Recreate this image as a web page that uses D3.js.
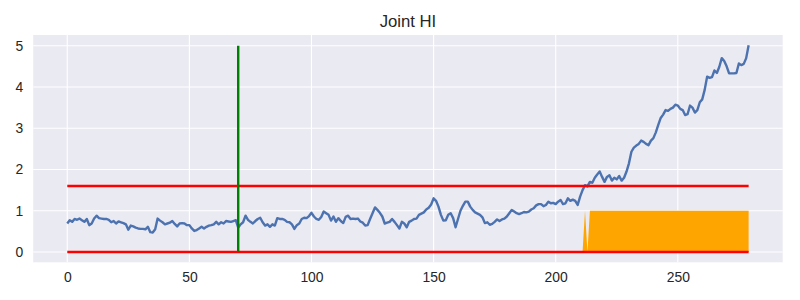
<!DOCTYPE html>
<html>
<head>
<meta charset="utf-8">
<script src="https://cdn.jsdelivr.net/npm/d3@7"></script>
<style>
    html, body { margin: 0; padding: 0; background: #ffffff; }
    svg { display: block; }
</style>
</head>
<body>
<svg id="chart" width="800" height="300"></svg>
<script>

var title_text = 'Joint HI';

// Health indicator, one value per sample (index = sample number)
var hi_values = [
    0.69, 0.77, 0.73, 0.80, 0.78, 0.81, 0.77, 0.73, 0.80, 0.65,
    0.69, 0.81, 0.88, 0.82, 0.81, 0.80, 0.80, 0.78, 0.72, 0.75,
    0.69, 0.74, 0.72, 0.70, 0.67, 0.54, 0.64, 0.62, 0.59, 0.57,
    0.56, 0.56, 0.55, 0.61, 0.48, 0.47, 0.55, 0.81, 0.76, 0.72,
    0.67, 0.69, 0.71, 0.75, 0.68, 0.62, 0.69, 0.70, 0.69, 0.65,
    0.65, 0.57, 0.51, 0.53, 0.57, 0.61, 0.57, 0.61, 0.64, 0.65,
    0.67, 0.73, 0.67, 0.72, 0.69, 0.75, 0.74, 0.73, 0.75, 0.77,
    0.59, 0.67, 0.72, 0.88, 0.78, 0.73, 0.69, 0.75, 0.80, 0.83,
    0.72, 0.64, 0.67, 0.61, 0.67, 0.64, 0.82, 0.80, 0.80, 0.78,
    0.73, 0.72, 0.67, 0.56, 0.65, 0.69, 0.80, 0.83, 0.82, 0.87,
    0.95, 0.86, 0.80, 0.78, 0.85, 0.98, 0.94, 0.90, 0.76, 0.86,
    0.73, 0.82, 0.75, 0.70, 0.85, 0.88, 0.80, 0.81, 0.80, 0.81,
    0.74, 0.71, 0.64, 0.65, 0.80, 0.94, 1.08, 1.02, 0.95, 0.86,
    0.69, 0.71, 0.73, 0.80, 0.73, 0.65, 0.57, 0.73, 0.69, 0.60,
    0.73, 0.76, 0.80, 0.81, 0.90, 0.93, 0.96, 1.03, 1.07, 1.15,
    1.30, 1.24, 1.10, 0.90, 0.76, 0.77, 0.90, 0.94, 0.82, 0.60,
    0.80, 1.00, 1.12, 1.22, 1.22, 1.10, 1.02, 0.96, 0.93, 0.90,
    0.84, 0.70, 0.72, 0.66, 0.68, 0.73, 0.79, 0.75, 0.79, 0.81,
    0.86, 0.94, 1.02, 0.98, 0.94, 0.92, 0.94, 0.97, 0.96, 0.98,
    1.03, 1.06, 1.13, 1.16, 1.16, 1.11, 1.14, 1.22, 1.18, 1.19,
    1.16, 1.22, 1.26, 1.16, 1.18, 1.30, 1.24, 1.27, 1.24, 1.14,
    1.34, 1.50, 1.62, 1.59, 1.70, 1.68, 1.80, 1.88, 1.95, 1.82,
    1.70, 1.82, 1.86, 1.73, 1.80, 1.76, 1.84, 1.73, 1.80, 1.95,
    2.15, 2.43, 2.53, 2.58, 2.62, 2.70, 2.67, 2.62, 2.59, 2.70,
    2.76, 2.90, 3.08, 3.25, 3.33, 3.44, 3.42, 3.47, 3.50, 3.57,
    3.55, 3.47, 3.44, 3.32, 3.34, 3.55, 3.50, 3.38, 3.44, 3.63,
    3.70, 3.93, 4.25, 4.22, 4.24, 4.40, 4.34, 4.49, 4.70, 4.63,
    4.50, 4.33, 4.33, 4.33, 4.34, 4.57, 4.53, 4.56, 4.70, 5.01
];

// Alarm threshold (upper red line) and base line (lower red line)
var threshold = 1.6;
var base_level = 0;

// Vertical green marker
var marker_index = 70;
var marker_range = [ 0, 5 ];

var x_ticks = [ 0, 50, 100, 150, 200, 250 ];
var y_ticks = [ 0, 1, 2, 3, 4, 5 ];

draw_chart();

function draw_chart () {

    var width = 800;
    var height = 300;
    var margin = { left: 33.2, right: 17.3, top: 35, bottom: 37.7 };

    var svg = d3.select( '#chart' );

    var n = hi_values.length;
    var xs = d3.range( n );

    // 0/1 flag of samples above the threshold, filled in orange
    var alarm = hi_values.map( function ( v ) { return v > threshold ? 1 : 0; } );

    // matplotlib style 5% margins
    var x_pad = ( n - 1 ) * 0.05;
    var y_max = Math.max( d3.max( hi_values ), marker_range[ 1 ] );
    var y_min = Math.min( d3.min( hi_values ), base_level );
    var y_pad = ( y_max - y_min ) * 0.05;

    var x = d3.scaleLinear()
        .domain( [ -x_pad, n - 1 + x_pad ] )
        .range( [ margin.left, width - margin.right ] );

    var y = d3.scaleLinear()
        .domain( [ y_min - y_pad, y_max + y_pad ] )
        .range( [ height - margin.bottom, margin.top ] );

    var font = '"Liberation Sans", Arial, sans-serif';

    // Plot background
    svg.append( 'rect' )
        .attr( 'x', margin.left )
        .attr( 'y', margin.top )
        .attr( 'width', width - margin.left - margin.right )
        .attr( 'height', height - margin.top - margin.bottom )
        .attr( 'fill', '#eaeaf2' );

    // Grid
    var grid = svg.append( 'g' )
        .attr( 'stroke', '#ffffff' )
        .attr( 'stroke-width', 1.1 );

    grid.selectAll( '.vgrid' )
        .data( x_ticks )
        .enter().append( 'line' )
        .attr( 'x1', function ( d ) { return x( d ); } )
        .attr( 'x2', function ( d ) { return x( d ); } )
        .attr( 'y1', margin.top )
        .attr( 'y2', height - margin.bottom );

    grid.selectAll( '.hgrid' )
        .data( y_ticks )
        .enter().append( 'line' )
        .attr( 'y1', function ( d ) { return y( d ); } )
        .attr( 'y2', function ( d ) { return y( d ); } )
        .attr( 'x1', margin.left )
        .attr( 'x2', width - margin.right );

    // Axes, labels only (no spines, no tick marks)
    var x_axis = svg.append( 'g' )
        .attr( 'transform', 'translate(0,' + ( height - margin.bottom ) + ')' )
        .call( d3.axisBottom( x ).tickValues( x_ticks ).tickFormat( d3.format( 'd' ) )
            .tickSize( 0 ).tickPadding( 10 ) );

    var y_axis = svg.append( 'g' )
        .attr( 'transform', 'translate(' + margin.left + ',0)' )
        .call( d3.axisLeft( y ).tickValues( y_ticks ).tickFormat( d3.format( 'd' ) )
            .tickSize( 0 ).tickPadding( 10 ) );

    [ x_axis, y_axis ].forEach( function ( axis ) {
        axis.select( '.domain' ).remove();
        axis.selectAll( 'text' )
            .attr( 'fill', '#262626' )
            .style( 'font-family', font )
            .style( 'font-size', '13.9px' );
    });

    // Alarm area, under every line
    var area = d3.area()
        .x( function ( d, i ) { return x( xs[ i ] ); } )
        .y0( function () { return y( base_level ); } )
        .y1( function ( d ) { return y( d ); } );

    svg.append( 'path' )
        .datum( alarm )
        .attr( 'd', area )
        .attr( 'fill', '#ffa500' );

    // Health indicator line
    var line = d3.line()
        .x( function ( d, i ) { return x( xs[ i ] ); } )
        .y( function ( d ) { return y( d ); } );

    svg.append( 'path' )
        .datum( hi_values )
        .attr( 'd', line )
        .attr( 'fill', 'none' )
        .attr( 'stroke', '#4c72b0' )
        .attr( 'stroke-width', 2.4 )
        .attr( 'stroke-linejoin', 'round' );

    // Threshold and base lines
    svg.selectAll( '.hline' )
        .data( [ base_level, threshold ] )
        .enter().append( 'line' )
        .attr( 'x1', x( 0 ) )
        .attr( 'x2', x( n - 1 ) )
        .attr( 'y1', function ( d ) { return y( d ); } )
        .attr( 'y2', function ( d ) { return y( d ); } )
        .attr( 'stroke', '#ff0000' )
        .attr( 'stroke-width', 2.4 );

    // Marker
    svg.append( 'line' )
        .attr( 'x1', x( marker_index ) )
        .attr( 'x2', x( marker_index ) )
        .attr( 'y1', y( marker_range[ 0 ] ) )
        .attr( 'y2', y( marker_range[ 1 ] ) )
        .attr( 'stroke', '#008000' )
        .attr( 'stroke-width', 2.4 );

    // Title
    svg.append( 'text' )
        .attr( 'x', ( margin.left + width - margin.right ) / 2 )
        .attr( 'y', margin.top - 8.3 )
        .attr( 'text-anchor', 'middle' )
        .attr( 'fill', '#262626' )
        .style( 'font-family', font )
        .style( 'font-size', '16.7px' )
        .text( title_text );

}

</script>
</body>
</html>
